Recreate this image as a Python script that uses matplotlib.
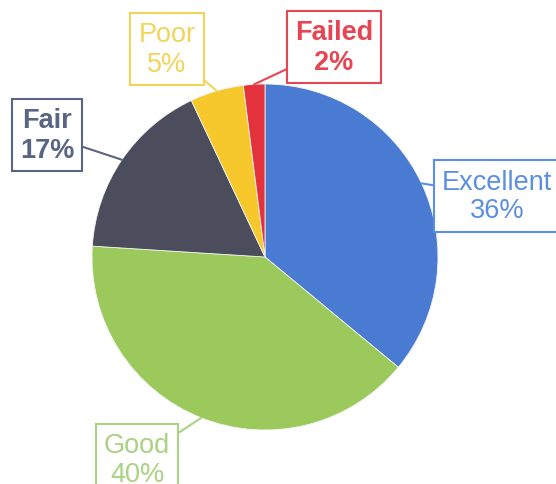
import numpy as np
import matplotlib
matplotlib.use('Agg')
import matplotlib.pyplot as plt

# data
labels = ['Excellent', 'Good', 'Fair', 'Poor', 'Failed']
shares = [36, 40, 17, 5, 2]
colors = ['#4a7bd2', '#9bc95c', '#4b4d5c', '#f6c82c', '#e4323c']
text_colors = ['#5b8fe2', '#a9d283', '#5a6584', '#f2d458', '#e64553']
bold = [False, False, True, False, True]
# label box centres in pixels (x, y from top)
label_pos = [(497, 197), (137, 461), (47, 136), (167, 50), (334, 48)]

W, H = 556, 485
plt.rcParams['font.family'] = ['Liberation Sans', 'DejaVu Sans']

fig = plt.figure(figsize=(W / 100, H / 100), dpi=100)
ax = fig.add_axes([0, 0, 1, 1])

cx, cy, r = 265, H - 258, 173
wedges, _ = ax.pie(shares, colors=colors, startangle=90, counterclock=False,
                   center=(cx, cy), radius=r,
                   wedgeprops=dict(edgecolor='#f4f4f0', linewidth=0.6))

ax.set_xlim(0, W)
ax.set_ylim(0, H)
ax.set_aspect('equal')
ax.axis('off')

for w, lab, val, tc, b, (lx, ly) in zip(wedges, labels, shares, text_colors, bold, label_pos):
    ang = np.deg2rad((w.theta1 + w.theta2) / 2)
    xy = (cx + r * np.cos(ang), cy + r * np.sin(ang))
    ax.annotate(f'{lab}\n{val}%', xy=xy, xytext=(lx, H - ly),
                ha='center', va='center', fontsize=19.5, color=tc,
                fontweight='bold' if b else 'normal', linespacing=1.15,
                bbox=dict(boxstyle='square,pad=0.3', fc='white', ec=tc, lw=1.5),
                arrowprops=dict(arrowstyle='-', color=tc, lw=1.5,
                                shrinkA=0, shrinkB=0))

fig.savefig('out.png', dpi=100)
